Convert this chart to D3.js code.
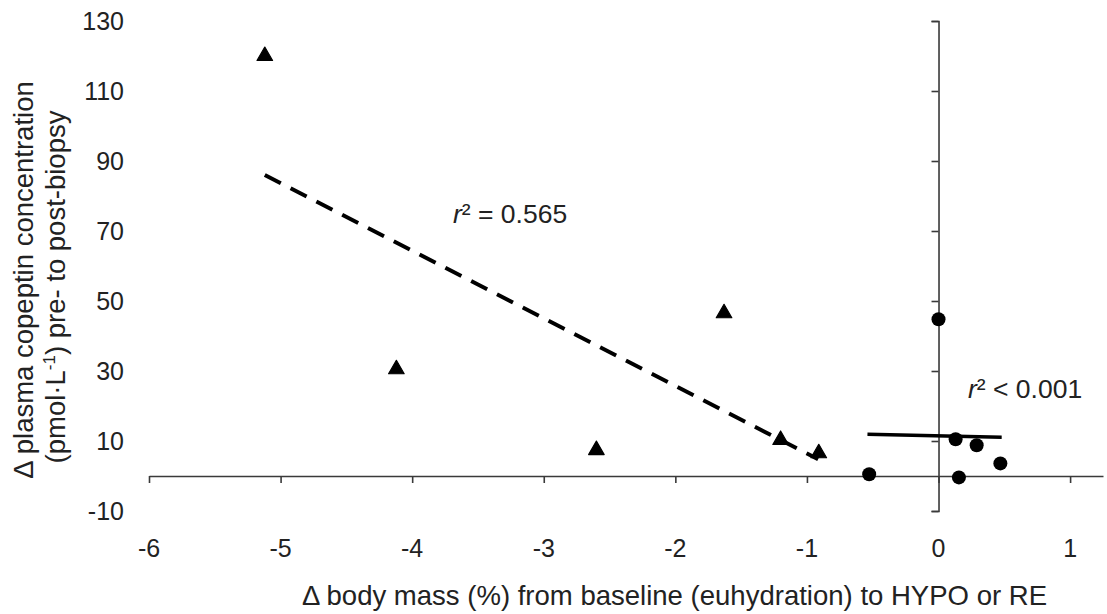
<!DOCTYPE html>
<head>
  <meta charset = "utf-8">
  <title>Copeptin vs body mass</title>
  <script src = "https://cdn.jsdelivr.net/npm/d3@7"></script>
  <style>
    body { margin: 0; background: #fff; }
    text { font-family: "Liberation Sans", Arial, sans-serif; fill: #222; }
  </style>
</head>

<body>

  <script type="text/javascript">
    var WIDTH = 1107;
    var HEIGHT = 614;

    //===========data
    var xTicks = [-6, -5, -4, -3, -2, -1, 0, 1];
    var yTicks = [-10, 10, 30, 50, 70, 90, 110, 130];

    // HYPO (triangles)
    var hypoX = [-5.12, -4.12, -2.6, -1.63, -1.2, -0.91];
    var hypoY = [120, 30.5, 7.4, 46.5, 10.3, 6.5];
    // RE (circles)
    var reX = [-0.527, 0, 0.13, 0.155, 0.29, 0.47];
    var reY = [0.5, 44.8, 10.5, -0.4, 8.8, 3.6];

    // trend line end points
    var hypoFitX = [-5.12, -0.915];
    var hypoFitY = [86, 4.8];
    var reFitX = [-0.54, 0.48];
    var reFitY = [11.9, 11.1];

    var svg = d3.select("body").append("svg")
                .attr("width",  WIDTH)
                .attr("height", HEIGHT);

    var x = d3.scaleLinear()
              .domain([-6, 1.25])
              .range([149, 1103]);
    var y = d3.scaleLinear()
              .domain([-10, 130])
              .range([511, 21]);

    //=============axes (lines + ticks only, labels placed on the outside)
    var xAxis = d3.axisBottom(x)
                  .tickValues(xTicks)
                  .tickSize(7)
                  .tickSizeOuter(0)
                  .tickFormat("");
    var yAxis = d3.axisLeft(y)
                  .tickValues(yTicks)
                  .tickSize(7)
                  .tickSizeOuter(7)
                  .tickFormat("");

    var gx = svg.append("g")
      .attr("transform", "translate(0," + y(0) + ")")
      .call(xAxis);
    var gy = svg.append("g")
      .attr("transform", "translate(" + x(0) + ",0)")
      .call(yAxis);
    svg.selectAll(".domain, .tick line")
      .attr("stroke", "#3a3a3a")
      .attr("stroke-width", 1.6);

    svg.append("g").selectAll("text")
      .data(xTicks)
      .enter().append("text")
      .attr("x", function(d){ return x(d); })
      .attr("y", 557)
      .attr("text-anchor", "middle")
      .attr("font-size", 25)
      .text(function(d){ return d; });

    svg.append("g").selectAll("text")
      .data(yTicks)
      .enter().append("text")
      .attr("x", 124)
      .attr("y", function(d){ return y(d); })
      .attr("dy", "0.36em")
      .attr("text-anchor", "end")
      .attr("font-size", 25)
      .text(function(d){ return d; });

    //=============trend lines
    var line = d3.line()
                 .x(function(d){ return x(d[0]); })
                 .y(function(d){ return y(d[1]); });

    svg.append("path")
      .attr("d", line(d3.zip(hypoFitX, hypoFitY)))
      .attr("fill", "none")
      .attr("stroke", "#000")
      .attr("stroke-width", 4)
      .attr("stroke-dasharray", "18,11");

    svg.append("path")
      .attr("d", line(d3.zip(reFitX, reFitY)))
      .attr("fill", "none")
      .attr("stroke", "#000")
      .attr("stroke-width", 3.5);

    //=============markers
    var tri = d3.symbol().type(d3.symbolTriangle).size(105);

    svg.append("g").selectAll("path")
      .data(d3.zip(hypoX, hypoY))
      .enter().append("path")
      .attr("d", tri)
      .attr("transform", function(d){ return "translate(" + x(d[0]) + "," + y(d[1]) + ")"; })
      .attr("fill", "#000")
      .attr("stroke", "#000")
      .attr("stroke-width", 1.2)
      .attr("stroke-linejoin", "round");

    svg.append("g").selectAll("circle")
      .data(d3.zip(reX, reY))
      .enter().append("circle")
      .attr("cx", function(d){ return x(d[0]); })
      .attr("cy", function(d){ return y(d[1]); })
      .attr("r", 7)
      .attr("fill", "#000");

    //=============annotations
    function rLabel(px, py, rest){
      var t = svg.append("text")
        .attr("x", px)
        .attr("y", py)
        .attr("font-size", 26.5);
      t.append("tspan").attr("font-style", "italic").text("r");
      t.append("tspan").text("\u00b2 " + rest);
    }
    rLabel(453, 223, "= 0.565");
    rLabel(968, 398, "< 0.001");

    //=============axis titles
    svg.append("text")
      .attr("x", 302)
      .attr("y", 605)
      .attr("font-size", 27.5)
      .attr("textLength", 745)
      .attr("lengthAdjust", "spacingAndGlyphs")
      .text("\u0394 body mass (%) from baseline (euhydration) to HYPO or RE");

    svg.append("text")
      .attr("transform", "translate(33,280) rotate(-90)")
      .attr("text-anchor", "middle")
      .attr("font-size", 27.5)
      .text("\u0394 plasma copeptin concentration");

    var t2 = svg.append("text")
      .attr("transform", "translate(65,287) rotate(-90)")
      .attr("text-anchor", "middle")
      .attr("font-size", 27.5);
    t2.append("tspan").text("(pmol\u00b7L");
    t2.append("tspan").attr("font-size", 17).attr("dy", -10).text("-1");
    t2.append("tspan").attr("dy", 10).text(") pre- to post-biopsy");

  </script>
</body>
